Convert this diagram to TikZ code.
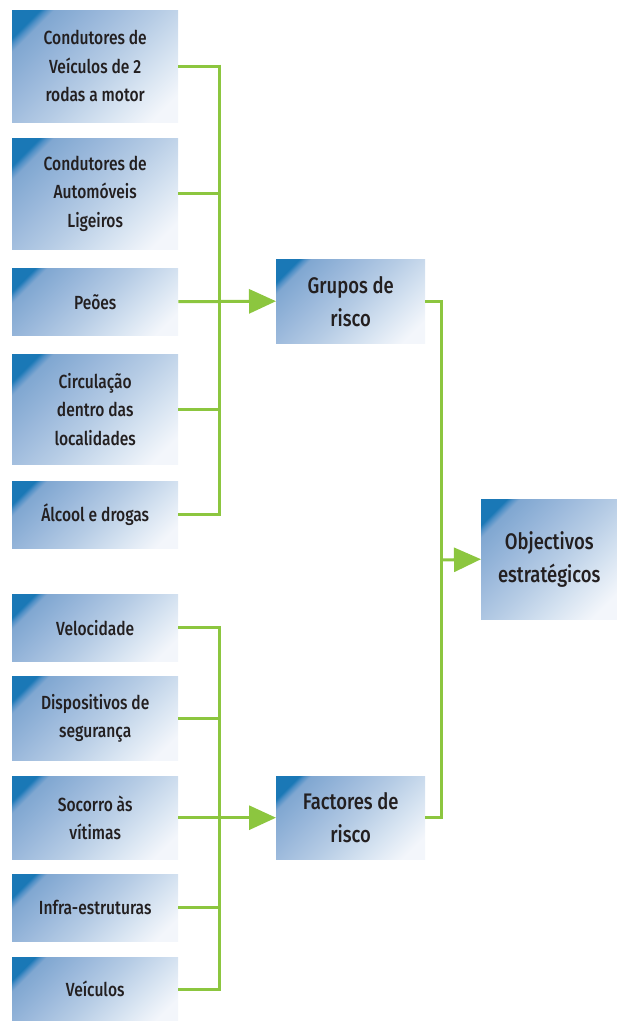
\documentclass[tikz,border=0pt]{standalone}
\usepackage{fontspec}
\setmainfont{Fira Sans}[FakeStretch=0.82, UprightFont=* Medium]
\usetikzlibrary{arrows.meta,calc}
\definecolor{lgreen}{HTML}{8CC63F}
\definecolor{txt}{HTML}{231F20}
\definecolor{sA}{HTML}{1A78B6}
\definecolor{sAB}{HTML}{4E8FC6}
\definecolor{sB}{HTML}{80A7D1}
\definecolor{sC}{HTML}{9AB8DB}
\definecolor{sD}{HTML}{B6CCE5}
\definecolor{sE}{HTML}{D6E3F1}
\definecolor{sF}{HTML}{F3F6FB}
\pgfdeclarehorizontalshading{boxshade}{100bp}{color(0bp)=(sA); color(21.5bp)=(sA); color(23bp)=(sAB); color(25bp)=(sB); color(38bp)=(sC); color(52bp)=(sD); color(66bp)=(sE); color(78.5bp)=(sF); color(100bp)=(sF)}
\tikzset{
  box/.style={shading=boxshade, shading angle=-45, draw=none, inner sep=0pt,
    text=txt, align=center, font=\fontsize{19}{28.5}\selectfont, anchor=north west},
  bigbox/.style={box, font=\fontsize{22.5}{33}\selectfont},
  conn/.style={draw=lgreen, line width=3pt},
  arr/.style={conn, -{Triangle[length=27pt,width=24pt]}},
}
\begin{document}
\begin{tikzpicture}[x=1pt,y=-1pt]
\useasboundingbox (0,0) rectangle (617,1021);
% left boxes
\node[box, minimum width=166pt, minimum height=112pt] (b1) at (12,10) {Condutores de\\Veículos de 2\\rodas a motor};
\node[box, minimum width=166pt, minimum height=111pt] (b2) at (12,138) {Condutores de\\Automóveis\\Ligeiros};
\node[box, minimum width=166pt, minimum height=67pt] (b3) at (12,268) {Peões};
\node[box, minimum width=166pt, minimum height=110pt] (b4) at (12,354) {Circulação\\dentro das\\localidades};
\node[box, minimum width=166pt, minimum height=67pt] (b5) at (12,481) {Álcool e drogas};
\node[box, minimum width=166pt, minimum height=67pt] (b6) at (12,594) {Velocidade};
\node[box, minimum width=166pt, minimum height=84pt] (b7) at (12,676) {Dispositivos de\\segurança};
\node[box, minimum width=166pt, minimum height=83pt] (b8) at (12,776) {Socorro às\\vítimas};
\node[box, minimum width=166pt, minimum height=67pt] (b9) at (12,874) {Infra-estruturas};
\node[box, minimum width=166pt, minimum height=64pt] (b10) at (12,957) {Veículos};
% middle boxes
\node[bigbox, minimum width=149pt, minimum height=84pt] (g) at (276,259) {Grupos de\\risco};
\node[bigbox, minimum width=149pt, minimum height=83pt] (f) at (276,776) {Factores de\\risco};
% right box
\node[bigbox, minimum width=136pt, minimum height=120pt] (o) at (481,499) {Objectivos\\estratégicos};
% bus coordinates
\coordinate (busA) at (219,0);
\coordinate (busB) at (441,0);
\coordinate (oin) at (441,560);
% upper group
\foreach \n in {b1,b2,b4,b5} \draw[conn] (\n.east) -- (\n.east -| busA);
\draw[conn] ([yshift=1.5pt]b1.east -| busA) -- ([yshift=-1.5pt]b5.east -| busA);
\draw[arr] (b3.east) -- (g.west);
% lower group
\foreach \n in {b6,b7,b9,b10} \draw[conn] (\n.east) -- (\n.east -| busA);
\draw[conn] ([yshift=1.5pt]b6.east -| busA) -- ([yshift=-1.5pt]b10.east -| busA);
\draw[arr] (b8.east) -- (f.west);
% right
\draw[conn] (g.east) -- (g.east -| busB) -- (f.east -| busB) -- (f.east);
\draw[arr] (oin) -- (o.west);
\end{tikzpicture}
\end{document}
